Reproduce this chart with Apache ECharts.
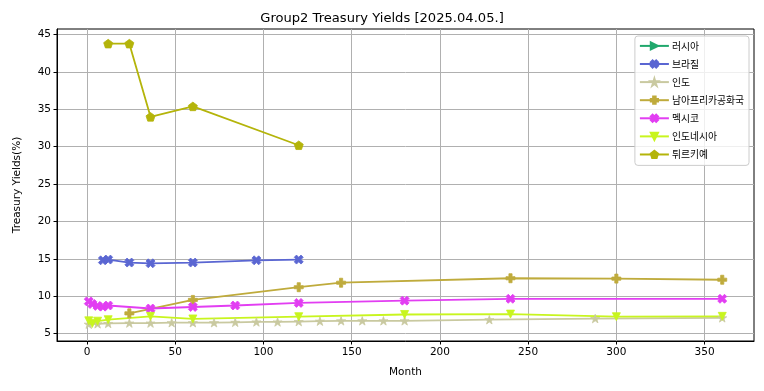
<!DOCTYPE html>
<html><head><meta charset="utf-8">
<script src="https://cdn.jsdelivr.net/npm/echarts@6/dist/echarts.min.js"></script>
<style>html,body{margin:0;padding:0;background:#fff}#c{width:764px;height:391px}</style>
</head><body><div id="c"></div>
<script>
const seriesNames = ['러시아','브라질','인도','남아프리카공화국','멕시코','인도네시아','튀르키예'];
const seriesColors = ['#20a86c','#5a66d2','#c9c9a0','#bfab3c','#e23ef2','#c8f51e','#b4b40a'];

const russiaMonths = [];
const russiaYields = [];
const brazilMonths = [9, 12, 24, 36, 60, 96, 120];
const brazilYields = [14.8, 14.9, 14.5, 14.4, 14.5, 14.8, 14.9];
const indiaMonths = [1, 6, 12, 24, 36, 48, 60, 72, 84, 96, 108, 120, 132, 144, 156, 168, 180, 228, 288, 360];
const indiaYields = [6.25, 6.3, 6.35, 6.4, 6.4, 6.45, 6.45, 6.45, 6.5, 6.55, 6.55, 6.6, 6.65, 6.7, 6.7, 6.7, 6.7, 6.85, 7.0, 7.1];
const safricaMonths = [24, 60, 120, 144, 240, 300, 360];
const safricaYields = [7.7, 9.5, 11.2, 11.8, 12.4, 12.35, 12.2];
const mexicoMonths = [1, 3, 6, 9, 12, 36, 60, 84, 120, 180, 240, 360];
const mexicoYields = [9.3, 8.95, 8.7, 8.6, 8.75, 8.35, 8.55, 8.75, 9.1, 9.4, 9.65, 9.65];
const indonesiaMonths = [1, 3, 6, 12, 36, 60, 120, 180, 240, 300, 360];
const indonesiaYields = [6.7, 6.35, 6.65, 6.85, 7.3, 6.95, 7.25, 7.55, 7.6, 7.25, 7.3];
const turkeyMonths = [12, 24, 36, 60, 120];
const turkeyYields = [43.8, 43.8, 34.0, 35.4, 30.2];

const xTicks = [0, 50, 100, 150, 200, 250, 300, 350];
const yTicks = [5, 10, 15, 20, 25, 30, 35, 40, 45];

const allMonths = [russiaMonths, brazilMonths, indiaMonths, safricaMonths, mexicoMonths, indonesiaMonths, turkeyMonths];
const allYields = [russiaYields, brazilYields, indiaYields, safricaYields, mexicoYields, indonesiaYields, turkeyYields];

const SYM = {
  tri_right: 'path://M0,0 L20,10 L0,20 Z',
  xfill: 'path://M0,5 L5,0 L10,5 L15,0 L20,5 L15,10 L20,15 L15,20 L10,15 L5,20 L0,15 L5,10 Z',
  star: 'path://M10,0 L12.245,6.91 L19.511,6.91 L13.633,11.18 L15.878,18.09 L10,13.82 L4.122,18.09 L6.367,11.18 L0.489,6.91 L7.755,6.91 Z',
  pfill: 'path://M6.5,0 L13.5,0 L13.5,6.5 L20,6.5 L20,13.5 L13.5,13.5 L13.5,20 L6.5,20 L6.5,13.5 L0,13.5 L0,6.5 L6.5,6.5 Z',
  tri_down: 'path://M0,0 L20,0 L10,20 Z',
  pentagon: 'path://M10,0 L19.511,6.91 L15.878,18.09 L4.122,18.09 L0.489,6.91 Z'
};
const symbols = [SYM.tri_right, SYM.xfill, SYM.star, SYM.pfill, SYM.xfill, SYM.tri_down, SYM.pentagon];
const symSizes = [8, 9, 9, 9, 9, 8, 9];

const FONT = 'DejaVu Sans';
const series = seriesNames.map((name, i) => ({
  name: name,
  type: 'line',
  data: allMonths[i].map((m, j) => [m, allYields[i][j]]),
  symbol: symbols[i],
  symbolSize: symSizes[i],
  symbolKeepAspect: true,
  showSymbol: true,
  color: seriesColors[i],
  lineStyle: {width: 1.8, color: seriesColors[i]},
  itemStyle: {color: seriesColors[i], borderColor: seriesColors[i], borderWidth: 0.8},
  emphasis: {disabled: true}
}));

const chart = echarts.init(document.getElementById('c'), null, {renderer: 'canvas'});
chart.setOption({
  animation: false,
  backgroundColor: '#fff',
  title: {
    text: 'Group2 Treasury Yields [2025.04.05.]',
    left: 'center', top: 7,
    textStyle: {fontFamily: FONT, fontSize: 13.1, fontWeight: 'normal', color: '#000'}
  },
  legend: {
    orient: 'vertical', right: 15, top: 36,
    data: seriesNames,
    itemWidth: 29, itemHeight: 9, itemGap: 8.3,
    padding: [5, 5, 6, 4],
    backgroundColor: 'rgba(255,255,255,0.8)',
    borderColor: '#cccccc', borderWidth: 1, borderRadius: 3,
    textStyle: {fontFamily: 'Noto Sans CJK KR', fontSize: 9.8, color: '#000', padding: [0,0,0,-2]}
  },
  grid: {left: 57, right: 10, top: 29, bottom: 50, show: true, borderColor: '#000', borderWidth: 1, backgroundColor: 'transparent'},
  xAxis: {
    type: 'value', min: -17, max: 378, splitNumber: 8,
    name: 'Month', nameLocation: 'middle', nameGap: 26,
    nameTextStyle: {fontFamily: FONT, fontSize: 10.5, color: '#000'},
    axisLine: {show: true, onZero: false, lineStyle: {color: '#000', width: 1}},
    axisTick: {show: true, length: 3.5, lineStyle: {color: '#000'}, customValues: xTicks},
    axisLabel: {fontFamily: FONT, fontSize: 10.5, color: '#000', margin: 6, customValues: xTicks},
    splitLine: {show: true, lineStyle: {color: '#b0b0b0', width: 1}}
  },
  yAxis: {
    type: 'value', min: 4.0, max: 45.76, splitNumber: 8,
    name: 'Treasury Yields(%)', nameLocation: 'middle', nameGap: 34,
    nameTextStyle: {fontFamily: FONT, fontSize: 10.5, color: '#000'},
    axisLine: {show: true, onZero: false, lineStyle: {color: '#000', width: 1}},
    axisTick: {show: true, length: 3.5, lineStyle: {color: '#000'}, customValues: yTicks},
    axisLabel: {fontFamily: FONT, fontSize: 10.5, color: '#000', margin: 6, customValues: yTicks},
    splitLine: {show: true, lineStyle: {color: '#b0b0b0', width: 1}}
  },
  series: series
});
</script>
</body></html>
